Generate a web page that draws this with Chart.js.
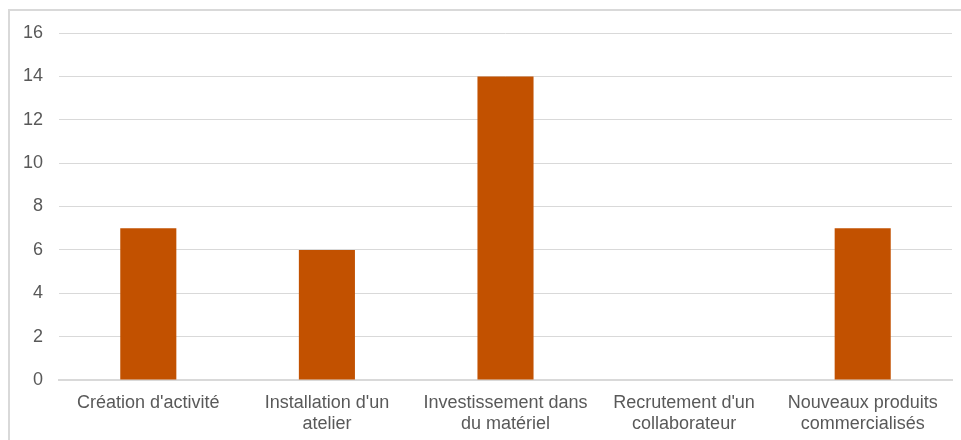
<!DOCTYPE html>
<html>
<head>
<meta charset="utf-8">
<script src="https://cdn.jsdelivr.net/npm/chart.js@4"></script>
<style>
  html, body { margin: 0; padding: 0; background: #fff; }
  #wrap { width: 961px; height: 440px; position: relative; }
</style>
</head>
<body>
<div id="wrap"><canvas id="myChart"></canvas></div>
<script>
// categories (multi-line labels) and values
const categories = [
  ["Création d'activité"],
  ["Installation d'un", "atelier"],
  ["Investissement dans", "du matériel"],
  ["Recrutement d'un", "collaborateur"],
  ["Nouveaux produits", "commercialisés"]
];
const values = [7, 6, 14, 0, 7];
const yTicks = [0, 2, 4, 6, 8, 10, 12, 14, 16];

// light grey frame round the chart, like the office export
const frame = {
  id: 'frame',
  beforeDraw(chart) {
    const c = chart.ctx;
    c.save();
    c.fillStyle = '#fff';
    c.fillRect(0, 0, chart.width, chart.height);
    c.strokeStyle = '#d9d9d9';
    c.lineWidth = 2;
    c.strokeRect(9, 10, chart.width + 20, chart.height + 20);
    c.restore();
  }
};

const ctx = document.getElementById('myChart');

new Chart(ctx, {
  type: 'bar',
  data: {
    labels: categories,
    datasets: [{
      data: values,
      backgroundColor: '#c25100',
      categoryPercentage: 1,
      barPercentage: 0.314
    }]
  },
  options: {
    responsive: true,
    maintainAspectRatio: false,
    animation: false,
    layout: { padding: { top: 33, right: 9, left: 0, bottom: 0 } },
    plugins: {
      legend: { display: false },
      tooltip: { enabled: false }
    },
    scales: {
      x: {
        grid: { display: false, drawTicks: false },
        border: { display: true, color: '#d9d9d9', width: 2 },
        ticks: {
          color: '#595959',
          font: { family: 'Liberation Sans, Arial, sans-serif', size: 18, lineHeight: 1.2 },
          padding: 12,
          maxRotation: 0,
          autoSkip: false
        },
        afterFit: (s) => { s.height = 60; }
      },
      y: {
        min: 0,
        max: 16,
        afterBuildTicks: (s) => { s.ticks = yTicks.map(v => ({ value: v })); },
        grid: { color: '#d9d9d9', lineWidth: 1, drawTicks: false },
        border: { display: false },
        ticks: {
          color: '#595959',
          font: { family: 'Liberation Sans, Arial, sans-serif', size: 18 },
          padding: 16
        },
        afterFit: (s) => { s.width = 59; }
      }
    }
  },
  plugins: [frame]
});
</script>
</body>
</html>
